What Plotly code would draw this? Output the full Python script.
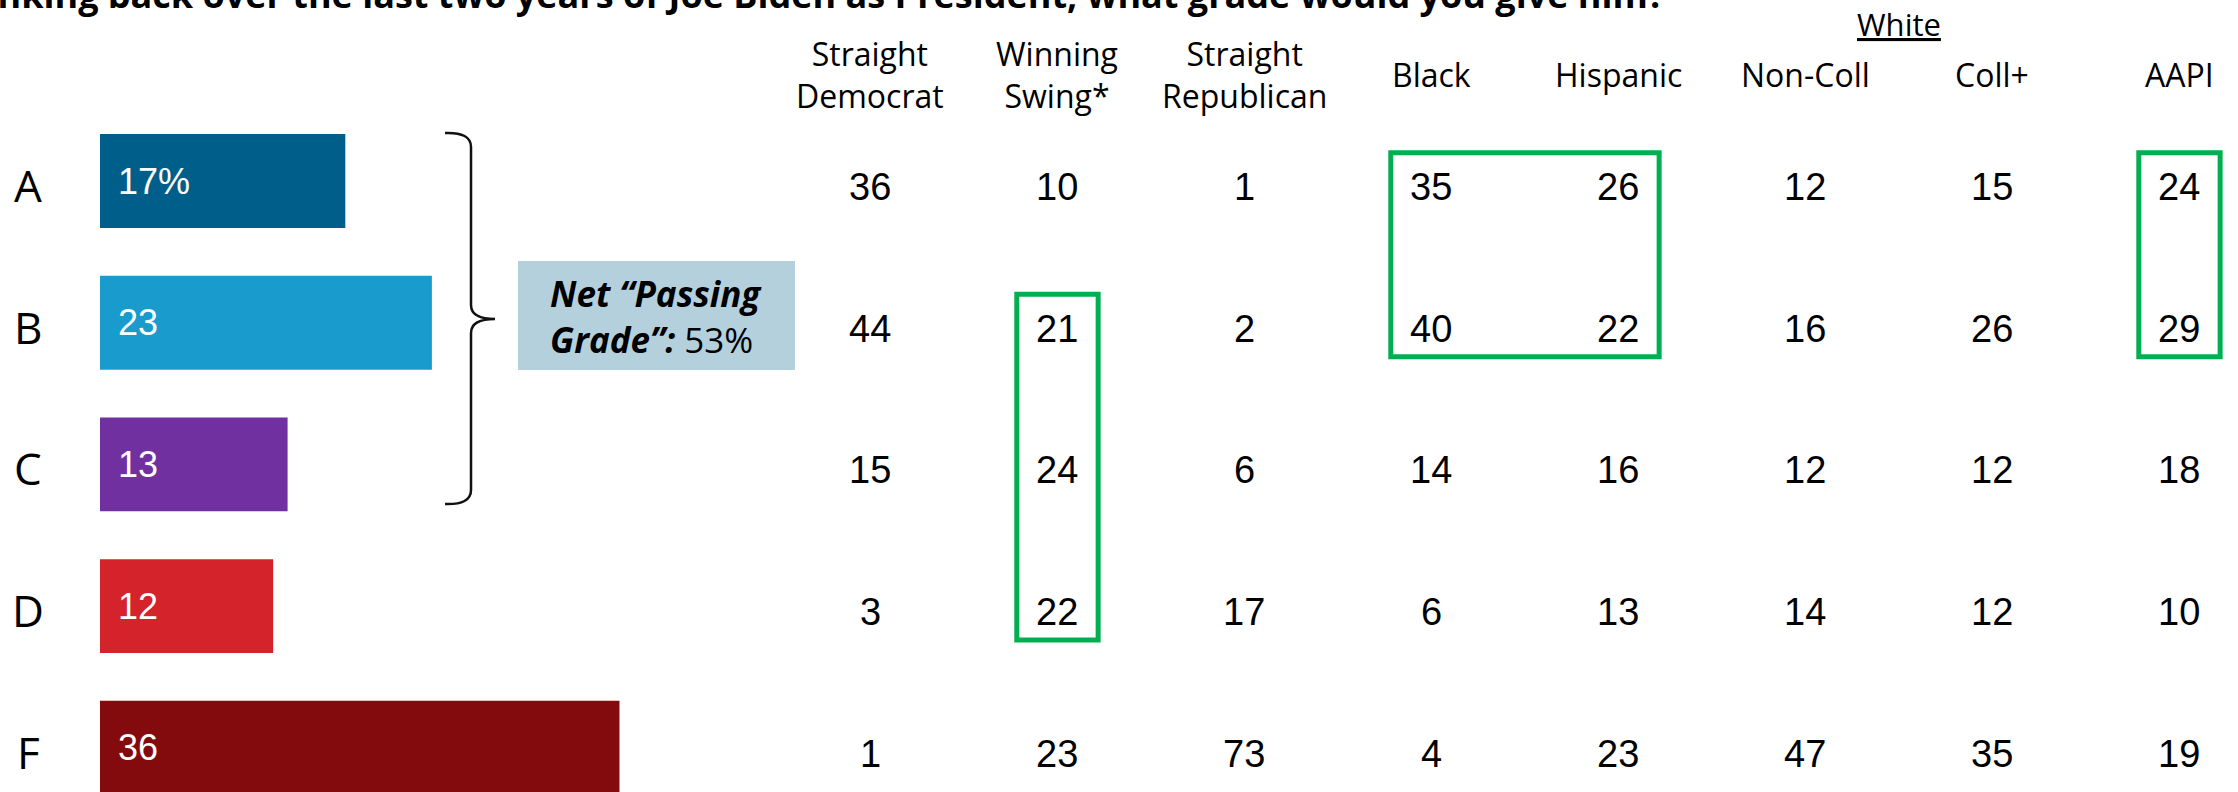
import plotly.graph_objects as go

# ---------------- data ----------------
grades = ["A", "B", "C", "D", "F"]
overall = [17, 23, 13, 12, 36]
overall_labels = ["17%", "23", "13", "12", "36"]
bar_colors = ["#005e8a", "#1a9bcd", "#7030a0", "#d4232a", "#830b0e"]

columns = ["Straight Democrat", "Winning Swing*", "Straight Republican", "Black",
           "Hispanic", "Non-Coll", "Coll+", "AAPI"]
header_labels = ["Straight<br>Democrat", "Winning<br>Swing*", "Straight<br>Republican",
                 "Black", "Hispanic", "Non-Coll", "Coll+", "AAPI"]
group_label = "White"
group_columns = ["Non-Coll", "Coll+"]

straight_dem = [36, 44, 15, 3, 1]
winning_swing = [10, 21, 24, 22, 23]
straight_rep = [1, 2, 6, 17, 73]
black = [35, 40, 14, 6, 4]
hispanic = [26, 22, 16, 13, 23]
white_noncoll = [12, 16, 12, 14, 47]
white_coll = [15, 26, 12, 12, 35]
aapi = [24, 29, 18, 10, 19]
table = [straight_dem, winning_swing, straight_rep, black, hispanic,
         white_noncoll, white_coll, aapi]

net_passing = 53
title_text = ("Thinking back over the last two years of Joe Biden as President, "
              "what grade would you give him?")

# highlighted cells: (first column, last column, first grade, last grade)
highlights = [("Black", "Hispanic", "A", "B"),
              ("Winning Swing*", "Winning Swing*", "B", "D"),
              ("AAPI", "AAPI", "A", "B")]

# ---------------- layout constants ----------------
W, H = 2238, 792
SANS = "Open Sans, Liberation Sans, Arial, sans-serif"
NUMF = "Liberation Sans, Arial, sans-serif"
GREEN = "#00b050"


def pp(x, y):
    return f"{x / W:.5f},{1 - y / H:.5f}"


fig = go.Figure()

fig.add_trace(go.Bar(
    y=grades, x=overall, orientation="h", width=0.663,
    marker=dict(color=bar_colors, line=dict(width=0)),
    hoverinfo="skip", xaxis="x", yaxis="y", showlegend=False,
))

# invisible anchor trace so the column axis is active
fig.add_trace(go.Scatter(
    x=columns, y=[grades[0]] * len(columns), mode="markers",
    marker=dict(opacity=0), hoverinfo="skip", xaxis="x2", yaxis="y", showlegend=False,
))

annotations = []
# table values
for col, vals in zip(columns, table):
    for g, v in zip(grades, vals):
        annotations.append(dict(
            x=col, xref="x2", y=g, yref="y", text=str(v), showarrow=False,
            xanchor="center", yanchor="middle", yshift=-6,
            font=dict(family=NUMF, size=38, color="#000000"),
        ))
# grade letters
for g in grades:
    annotations.append(dict(
        x=28 / W, xref="paper", y=g, yref="y", text=g, showarrow=False,
        xanchor="center", yanchor="middle", yshift=-4,
        font=dict(family=SANS, size=44, color="#000000"),
    ))
# bar labels
for g, lab in zip(grades, overall_labels):
    annotations.append(dict(
        x=0, xref="x", y=g, yref="y", text=lab, showarrow=False,
        xanchor="left", yanchor="middle", xshift=16,
        font=dict(family=NUMF, size=36, color="#ffffff"),
    ))
# column headers
for col, lab in zip(columns, header_labels):
    annotations.append(dict(
        x=col, xref="x2", y=1 - 74 / H, yref="paper", text=lab, showarrow=False,
        xanchor="center", yanchor="middle",
        font=dict(family=SANS, size=32, color="#000000"),
    ))
# group label
gi = [columns.index(c) for c in group_columns]
annotations.append(dict(
    x=sum(gi) / len(gi), xref="x2", y=1 - 24 / H, yref="paper",
    text=f"<u>{group_label}</u>", showarrow=False, xanchor="center", yanchor="middle",
    font=dict(family=SANS, size=31, color="#000000"),
))
# net passing box text
annotations.append(dict(
    x=656 / W, xref="paper", y=1 - 316 / H, yref="paper",
    text=f"<b><i>Net “Passing</i></b><br><b><i>Grade”:</i></b> {net_passing}%",
    showarrow=False, xanchor="center", yanchor="middle", align="left",
    font=dict(family=SANS, size=35, color="#000000"),
))
# title (partly cut off at top in the original)
annotations.append(dict(
    x=1667 / W, xref="paper", y=1 - 21 / H, yref="paper", text=f"<b>{title_text}</b>",
    showarrow=False, xanchor="right", yanchor="bottom",
    font=dict(family=SANS, size=36, color="#000000"),
))

shapes = []
# net passing box
shapes.append(dict(type="rect", xref="paper", yref="paper",
                   x0=518 / W, x1=795 / W, y0=1 - 370 / H, y1=1 - 261 / H,
                   fillcolor="#b4d0dd", line=dict(width=0), layer="below"))
# curly brace
brace = (f"M {pp(445,133)} Q {pp(471,132)} {pp(471,147)} L {pp(471,305)} "
         f"Q {pp(471,319)} {pp(495,319)} Q {pp(471,319)} {pp(471,333)} "
         f"L {pp(471,490)} Q {pp(471,505)} {pp(445,504)}")
shapes.append(dict(type="path", path=brace, xref="paper", yref="paper",
                   line=dict(color="#111111", width=2.5)))
# green highlight boxes
for c0, c1, g0, g1 in highlights:
    shapes.append(dict(
        type="rect", xref="x2", yref="y",
        x0=columns.index(c0) - 0.215, x1=columns.index(c1) + 0.22,
        y0=grades.index(g0) - 0.2, y1=grades.index(g1) + 0.24,
        line=dict(color=GREEN, width=5), fillcolor="rgba(0,0,0,0)",
    ))

px_per_unit = 14.43
bar_x0 = 100
col_x0, col_step = 870, 187.0
row_y0, row_step = 181, 141.7

fig.update_layout(
    width=W, height=H,
    margin=dict(l=0, r=0, t=0, b=0),
    paper_bgcolor="#ffffff", plot_bgcolor="#ffffff",
    xaxis=dict(domain=[0, 1], range=[-bar_x0 / px_per_unit, (W - bar_x0) / px_per_unit],
               visible=False, fixedrange=True),
    xaxis2=dict(domain=[0, 1], overlaying="x", type="category", categoryorder="array",
                categoryarray=columns,
                range=[-col_x0 / col_step, (W - col_x0) / col_step],
                visible=False, fixedrange=True),
    yaxis=dict(domain=[0, 1], type="category", categoryorder="array", categoryarray=grades,
               range=[(H - row_y0) / row_step, -row_y0 / row_step],
               visible=False, fixedrange=True),
    annotations=annotations,
    shapes=shapes,
    showlegend=False,
)

fig.write_html(
    "out.html",
    config={"displayModeBar": False},
    post_script="document.body.style.margin='0';document.body.style.overflow='hidden';",
)
